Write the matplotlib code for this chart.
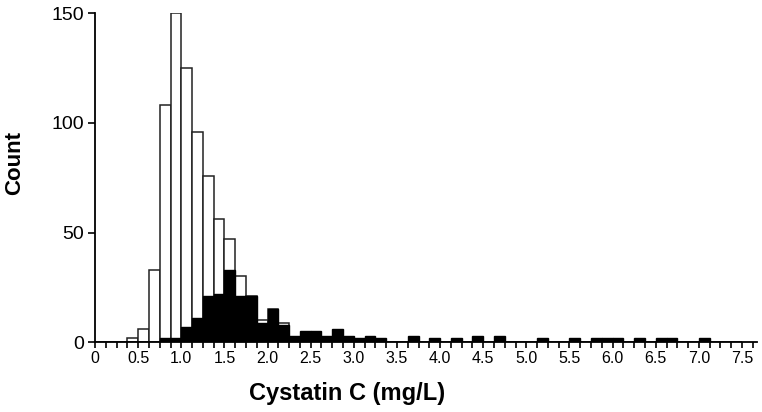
import numpy as np
import matplotlib
matplotlib.use("Agg")
import matplotlib.pyplot as plt

plt.rcParams['font.family'] = ['Liberation Sans', 'DejaVu Sans']

# histogram bins of 0.125 mg/L starting at 0
bin_width = 0.125
white_counts = [0, 0, 0, 2, 6, 33, 108, 150, 125, 96, 76, 56, 47, 30, 21, 10,
                15, 9, 0, 0, 0, 0, 0, 0, 0, 0, 0, 0, 0, 0,
                0, 0, 0, 0, 0, 0, 0, 0, 0, 0, 0, 0, 0, 0, 0,
                0, 0, 0, 0, 0, 0, 0, 0, 0, 0, 0, 0, 0, 0, 0]
black_counts = [0, 0, 0, 0, 0, 0, 2, 2, 7, 11, 21, 22, 33, 21, 21, 9,
                15, 8, 3, 5, 5, 3, 6, 3, 2, 3, 2, 0, 0, 3,
                0, 2, 0, 2, 0, 3, 0, 3, 0, 0, 0, 2, 0, 0, 2,
                0, 2, 2, 2, 0, 2, 0, 2, 2, 0, 0, 2, 0, 0, 0]
major_ticks = [0, 0.5, 1.0, 1.5, 2.0, 2.5, 3.0, 3.5, 4.0, 4.5, 5.0, 5.5, 6.0, 6.5, 7.0, 7.5]
y_ticks = [0, 50, 100, 150]

lefts = np.arange(len(white_counts)) * bin_width

fig = plt.figure(figsize=(7.62, 4.12), dpi=100)
ax = fig.add_axes([0.1247, 0.1692, 0.993 - 0.1247, 0.9677 - 0.1692])

ax.bar(lefts, white_counts, width=bin_width, align='edge', color='white',
       edgecolor='#222222', linewidth=1.1, zorder=2)
ax.bar(lefts, black_counts, width=bin_width, align='edge', color='black',
       edgecolor='black', linewidth=1.0, zorder=3)

ax.set_xlim(0, 7.67)
ax.set_ylim(0, 150)

ax.set_xticks(np.arange(0, 7.7, bin_width), minor=True)
ax.set_xticks(major_ticks)
ax.set_xticklabels(['0'] + ['%.1f' % t for t in major_ticks[1:]], fontsize=11.5)
ax.set_yticks(y_ticks)
ax.set_yticklabels([str(t) for t in y_ticks], fontsize=14)

ax.tick_params(axis='x', which='both', direction='out', length=4.5, width=1.2, pad=2)
ax.tick_params(axis='y', direction='out', length=5, width=1.2, pad=3)

for s in ['top', 'right']:
    ax.spines[s].set_visible(False)
for s in ['left', 'bottom']:
    ax.spines[s].set_linewidth(1.3)
    ax.spines[s].set_zorder(4)

fig.text(0.455, 0.045, 'Cystatin C (mg/L)', fontsize=17, fontweight='bold',
         ha='center', va='center')
fig.text(0.019, 0.605, 'Count', fontsize=16, fontweight='bold',
         ha='center', va='center', rotation=90)

fig.savefig('out.png', dpi=100)
